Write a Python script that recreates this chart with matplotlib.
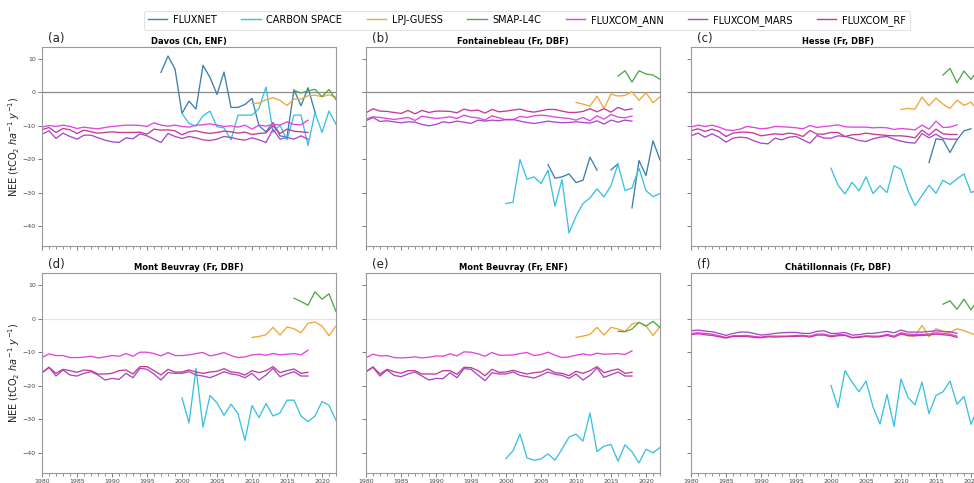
import numpy as np
import matplotlib
matplotlib.use("Agg")
import matplotlib.pyplot as plt
from matplotlib.lines import Line2D
from matplotlib.ticker import MultipleLocator

nan = np.nan

# ---------------- data ----------------
series_names = ["FLUXNET", "CARBON SPACE", "LPJ-GUESS", "SMAP-L4C",
                "FLUXCOM_ANN", "FLUXCOM_MARS", "FLUXCOM_RF"]
series_colors = ["#3c80ad", "#3cc0e2", "#f2a53a", "#52a84c",
                 "#e045e0", "#a64ac9", "#c43a96"]

site_titles = ["Davos (Ch, ENF)", "Fontainebleau (Fr, DBF)", "Hesse (Fr, DBF)",
               "Mont Beuvray (Fr, DBF)", "Mont Beuvray (Fr, ENF)", "Châtillonnais (Fr, DBF)"]
panel_labels = ["(a)", "(b)", "(c)", "(d)", "(e)", "(f)"]

years_fc = np.arange(1980, 2019)
years_cs = np.arange(2000, 2023)
years_lpj = np.arange(2010, 2023)
years_smap = np.arange(2016, 2023)

# (a) Davos
davos_fn_years = np.arange(1997, 2020)
davos_fn = [6.0, 10.9, 7.0, -6.3, -2.6, -5.0, 8.1, 4.5, -0.6, 6.1, -4.5, -4.5,
            -3.6, -1.8, -10.0, -11.8, -9.0, -13.0, -13.4, 0.8, -4.0, 1.4, -5.9]
davos_cs = [-6.3, -9.3, -10.1, -7.0, -5.6, -10.3, -10.6, -14.2, -6.8, -6.8, -6.8,
            -4.8, 1.6, -12.0, -9.8, -14.2, -6.8, -6.8, -15.9, -6.0, -12.0, -5.6, -9.5]
davos_lpj = [-3.3, -3.2, -2.2, -1.6, -2.4, -3.9, -2.0, -2.0, -1.0, -0.8, -1.3, -0.7, -1.4]
davos_smap = [0.6, -0.2, 0.5, 0.9, -1.3, 0.9, -2.2]
davos_ann = [-10.4, -9.9, -10.2, -9.8, -10.2, -10.8, -10.4, -10.7, -10.9, -10.5, -10.2, -10.0,
             -9.8, -9.8, -9.9, -10.2, -9.1, -9.8, -10.1, -9.8, -10.2, -10.4, -9.8, -9.7,
             -9.4, -9.8, -10.2, -10.0, -10.4, -9.8, -11.0, -9.8, -10.1, -9.5, -9.8, -8.8,
             -9.6, -9.7, -8.3]
davos_mars = [-12.5, -11.5, -13.8, -12.2, -13.2, -14.0, -12.8, -12.8, -13.6, -14.3, -14.8, -15.0,
              -13.6, -13.9, -12.4, -13.0, -14.0, -15.0, -12.3, -13.2, -13.8, -13.2, -13.6, -14.2,
              -14.4, -14.0, -13.2, -13.5, -14.0, -14.3, -13.6, -14.2, -15.0, -11.0, -14.0, -13.5,
              -14.0, -13.0, -14.0]
davos_rf = [-11.2, -10.5, -12.0, -10.8, -11.2, -12.3, -11.3, -11.8, -12.2, -12.0, -11.8, -12.0,
            -12.0, -12.0, -11.9, -12.5, -11.0, -11.3, -11.2, -11.5, -12.7, -11.8, -11.5, -12.0,
            -12.3, -12.0, -11.6, -11.8, -12.2, -11.9, -12.6, -12.3, -12.1, -10.0, -12.3, -11.0,
            -11.6, -11.8, -12.0]

# (b) Fontainebleau
font_fn_years = np.arange(2006, 2023)
font_fn = [-21.6, -25.7, -25.3, -24.4, -27.0, -26.3, -19.4, -23.3, nan, -23.2, -21.4, nan,
           -34.6, -20.4, -24.9, -14.5, -20.2]
font_cs = [-33.3, -32.9, -20.1, -26.0, -25.3, -27.3, -23.3, -34.1, -26.1, -42.1, -37.1, -33.3,
           -31.6, -28.9, -31.3, -27.9, -21.5, -29.4, -28.6, -22.7, -29.4, -31.2, -30.3]
font_lpj = [-3.0, -3.5, -4.1, -1.1, -4.8, -0.5, -1.1, -0.9, 0.2, -2.4, -0.1, -3.1, -1.3]
font_smap = [4.9, 6.5, 3.1, 6.5, 5.5, 5.2, 3.9]
font_ann = [-8.0, -7.3, -7.5, -7.8, -8.1, -7.8, -7.5, -8.4, -7.1, -7.5, -7.8, -7.6,
            -7.3, -7.8, -6.8, -7.4, -7.6, -8.3, -7.0, -7.6, -8.2, -8.2, -7.2, -7.5,
            -7.0, -6.8, -7.0, -7.4, -7.6, -7.8, -8.3, -7.5, -8.5, -7.0, -8.0, -6.6,
            -7.4, -7.6, -7.1]
font_mars = [-8.5, -7.5, -8.7, -8.5, -8.8, -9.1, -8.8, -8.9, -9.6, -10.0, -9.6, -8.8,
             -9.1, -8.6, -8.9, -9.3, -8.3, -8.6, -8.3, -8.5, -8.1, -8.1, -8.6, -9.0,
             -9.3, -9.0, -8.6, -8.9, -9.1, -9.0, -8.8, -9.0, -9.2, -8.5, -9.5, -8.3,
             -8.9, -8.3, -8.6]
font_rf = [-6.1, -4.9, -5.6, -5.7, -6.0, -6.3, -5.4, -6.4, -5.4, -6.0, -5.6, -5.6,
           -5.7, -6.1, -5.0, -5.5, -5.3, -6.2, -5.1, -5.8, -5.6, -5.3, -5.0, -5.6,
           -5.9, -5.5, -5.1, -5.1, -5.6, -6.0, -6.0, -5.7, -4.9, -5.8, -4.9, -5.9,
           -4.5, -5.3, -4.9]

# (c) Hesse
hesse_fn_years = np.arange(2014, 2021)
hesse_fn = [-21.0, -13.9, -14.2, -18.0, -14.2, -11.5, -10.9]
hesse_cs = [-22.7, -27.8, -30.4, -26.9, -29.5, -25.3, -30.3, -28.0, -30.0, -22.0, -23.0, -29.4,
            -33.9, -30.9, -27.8, -30.2, -26.3, -27.6, -25.9, -24.4, -30.0, -29.2, -27.0]
hesse_lpj = [-5.1, -4.8, -5.0, -1.4, -4.0, -1.7, -3.5, -4.8, -2.3, -3.9, -2.9, -5.6, -3.0]
hesse_smap = [5.2, 7.2, 2.9, 6.4, 3.9, 6.7, 4.0]
hesse_ann = [-10.4, -9.8, -10.2, -9.8, -10.4, -11.2, -11.4, -11.0, -10.2, -10.5, -10.9, -10.7,
             -10.2, -10.3, -10.4, -10.6, -10.9, -9.9, -10.5, -10.2, -10.0, -9.7, -10.3, -10.4,
             -10.4, -10.4, -10.6, -10.5, -10.6, -11.1, -10.8, -11.0, -11.2, -9.8, -11.0, -8.6,
             -10.5, -10.4, -9.7]
hesse_mars = [-13.0, -12.2, -13.4, -12.4, -13.4, -14.9, -13.7, -13.4, -13.6, -14.5, -15.2, -15.4,
              -13.7, -14.2, -13.4, -13.2, -14.2, -15.2, -12.9, -13.7, -13.7, -13.0, -13.2, -13.7,
              -14.4, -14.7, -13.9, -13.4, -13.2, -14.0, -14.6, -15.0, -15.2, -12.3, -13.6, -12.5,
              -13.8, -14.0, -14.0]
hesse_rf = [-11.5, -10.9, -11.7, -11.0, -11.7, -13.2, -12.2, -11.9, -11.9, -12.2, -13.0, -12.7,
            -12.4, -12.6, -12.2, -12.5, -13.2, -11.4, -12.5, -12.5, -12.0, -12.0, -13.2, -12.7,
            -12.6, -12.2, -12.5, -12.7, -12.9, -13.0, -13.0, -13.2, -13.6, -11.3, -12.8, -11.0,
            -12.4, -12.6, -12.6]

# (d) Mont Beuvray DBF
mbd_cs = [-23.6, -31.1, -14.8, -32.3, -22.9, -25.1, -28.8, -25.5, -28.3, -36.3, -25.9, -29.5,
          -25.3, -29.0, -28.1, -24.3, -24.3, -29.0, -30.7, -29.0, -24.7, -25.8, -30.3]
mbd_lpj = [-5.6, -5.3, -4.8, -2.6, -4.9, -2.5, -3.0, -4.2, -1.4, -1.0, -2.2, -5.1, -2.2]
mbd_smap = [6.1, 5.1, 4.0, 8.0, 5.8, 7.4, 2.1]
mbd_ann = [-11.6, -10.5, -11.0, -11.0, -11.6, -11.6, -11.5, -11.2, -11.7, -11.4, -11.0, -11.2,
           -10.4, -11.2, -10.0, -10.0, -10.4, -11.1, -10.1, -11.0, -11.0, -10.8, -10.4, -10.1,
           -11.1, -10.7, -10.1, -11.0, -11.6, -11.4, -10.8, -10.6, -10.9, -10.4, -10.8, -10.6,
           -10.4, -10.8, -9.4]
mbd_mars = [-16.1, -14.5, -17.1, -15.3, -16.8, -17.1, -16.3, -15.8, -16.8, -18.3, -17.8, -18.1,
            -16.3, -17.6, -14.8, -15.1, -16.5, -18.3, -16.1, -16.3, -16.3, -15.8, -16.8, -17.1,
            -17.6, -16.8, -15.8, -16.5, -16.8, -17.6, -16.3, -18.3, -16.8, -14.8, -17.3, -16.5,
            -15.8, -17.1, -17.1]
mbd_rf = [-16.1, -14.5, -16.3, -15.1, -15.5, -16.0, -15.3, -15.5, -16.5, -16.5, -16.3, -15.5,
          -15.3, -16.5, -14.3, -14.3, -15.5, -16.8, -15.1, -15.9, -15.9, -15.3, -15.9, -16.3,
          -15.9, -15.7, -14.9, -15.9, -16.1, -16.8, -15.5, -16.1, -15.5, -14.3, -16.1, -15.5,
          -15.0, -16.3, -16.0]

# (e) Mont Beuvray ENF
mbe_cs = [-41.7, -39.4, -34.4, -41.5, -42.2, -41.8, -40.3, -42.2, -38.9, -35.3, -34.4, -36.5,
          -28.1, -39.6, -38.0, -37.5, -42.5, -37.6, -39.7, -43.0, -38.9, -40.0, -38.4]
mbe_lpj = [-5.6, -5.2, -4.7, -2.6, -4.9, -2.6, -3.1, -3.8, -1.6, -1.1, -2.2, -5.0, -2.4]
mbe_smap = [-3.8, -3.9, -3.1, -1.1, -2.2, -0.8, -2.6]
mbe_ann = [-11.6, -10.6, -11.1, -11.0, -11.6, -11.7, -11.6, -11.4, -11.7, -11.5, -11.1, -11.2,
           -10.5, -11.1, -9.9, -10.0, -10.5, -11.2, -10.1, -10.9, -10.9, -10.8, -10.4, -10.1,
           -11.0, -10.7, -10.0, -10.9, -11.6, -11.4, -10.9, -10.5, -10.9, -10.3, -10.6, -10.5,
           -10.4, -10.7, -9.6]
mbe_mars = [-15.8, -14.5, -17.1, -15.3, -16.9, -17.3, -16.5, -15.9, -17.1, -18.3, -17.8, -17.9,
            -16.1, -17.6, -14.9, -15.1, -16.8, -18.5, -16.1, -16.5, -16.5, -15.9, -16.9, -17.3,
            -17.7, -16.9, -15.9, -16.6, -16.9, -17.8, -16.5, -18.3, -16.9, -14.7, -17.5, -16.7,
            -15.9, -17.1, -17.1]
mbe_rf = [-15.8, -14.4, -16.5, -15.1, -15.8, -16.3, -15.5, -15.5, -16.5, -16.5, -16.5, -15.5,
          -15.5, -16.6, -14.5, -14.6, -15.5, -17.0, -15.1, -16.0, -15.9, -15.4, -16.0, -16.5,
          -16.1, -15.9, -15.0, -16.1, -16.3, -17.0, -15.7, -16.3, -15.5, -14.3, -16.1, -15.5,
          -15.0, -16.3, -16.0]

# (f) Chatillonnais
chat_cs = [-19.9, -26.5, -15.5, -18.9, -21.8, -18.6, -26.3, -31.4, -22.6, -32.1, -18.0, -23.5,
           -25.7, -18.9, -28.3, -22.9, -21.8, -18.6, -25.5, -23.2, -31.5, -26.3, -22.0]
chat_lpj = [-4.2, -5.2, -5.2, -2.0, -5.4, -3.0, -3.8, -4.2, -3.0, -3.6, -4.4, -5.0, -5.5]
chat_smap = [4.3, 5.3, 2.8, 5.8, 2.6, 5.8, 4.0]
chat_ann = [-4.4, -4.2, -4.4, -4.6, -5.1, -5.6, -5.1, -5.1, -5.0, -5.3, -5.5, -5.2,
            -5.2, -5.2, -5.2, -5.0, -5.0, -5.2, -4.6, -4.6, -5.1, -4.8, -4.8, -5.6,
            -5.4, -5.1, -5.2, -5.2, -4.7, -5.2, -4.2, -4.6, -4.7, -4.7, -4.6, -4.2,
            -4.4, -4.6, -5.2]
chat_mars = [-3.6, -3.4, -3.7, -3.9, -4.4, -5.0, -4.4, -4.0, -4.0, -4.4, -4.9, -4.7,
             -4.4, -4.2, -4.1, -4.1, -4.4, -4.4, -3.8, -3.6, -4.4, -4.4, -4.1, -4.9,
             -4.8, -4.4, -4.4, -4.1, -3.8, -4.2, -3.4, -4.0, -4.0, -4.0, -3.8, -3.6,
             -3.8, -3.9, -4.4]
chat_rf = [-4.8, -4.5, -4.8, -5.0, -5.4, -5.8, -5.3, -5.3, -5.3, -5.6, -5.7, -5.4,
           -5.5, -5.4, -5.3, -5.3, -5.2, -5.5, -4.9, -4.9, -5.4, -5.1, -5.0, -5.7,
           -5.6, -5.3, -5.5, -5.4, -5.0, -5.5, -4.6, -5.0, -5.1, -5.0, -4.9, -4.6,
           -4.8, -5.0, -5.6]

x_ticks = [1980, 1985, 1990, 1995, 2000, 2005, 2010, 2015, 2020]
y_ticks = [-40, -30, -20, -10, 0, 10]

sites = [
    ((davos_fn_years, davos_fn), davos_cs, davos_lpj, davos_smap, davos_ann, davos_mars, davos_rf),
    ((font_fn_years, font_fn), font_cs, font_lpj, font_smap, font_ann, font_mars, font_rf),
    ((hesse_fn_years, hesse_fn), hesse_cs, hesse_lpj, hesse_smap, hesse_ann, hesse_mars, hesse_rf),
    (None, mbd_cs, mbd_lpj, mbd_smap, mbd_ann, mbd_mars, mbd_rf),
    (None, mbe_cs, mbe_lpj, mbe_smap, mbe_ann, mbe_mars, mbe_rf),
    (None, chat_cs, chat_lpj, chat_smap, chat_ann, chat_mars, chat_rf),
]

# ---------------- figure ----------------
W, H = 974, 483
fig = plt.figure(figsize=(W / 100, H / 100), dpi=100)

col_lefts = [42, 366, 691]
ax_w = 294
row_tops = [47, 273]
row_h = [199, 200]
zero_colors = ["#8a8a8a", "#e4e4e4"]
spine_col = "#9a9a9a"
lw = 0.95

for i, site in enumerate(sites):
    r, c = divmod(i, 3)
    left = col_lefts[c]
    top = row_tops[r]
    h = row_h[r]
    ax = fig.add_axes([left / W, 1 - (top + h) / H, ax_w / W, h / H])
    ax.axhline(0, color=zero_colors[r], lw=0.9, zorder=1)

    fn, cs, lpj, smap, ann, mars, rf = site
    if fn is not None:
        ax.plot(fn[0], fn[1], color=series_colors[0], lw=lw, zorder=2)
    ax.plot(years_cs, cs, color=series_colors[1], lw=lw, zorder=2)
    ax.plot(years_lpj, lpj, color=series_colors[2], lw=lw, zorder=2)
    ax.plot(years_smap, smap, color=series_colors[3], lw=lw, zorder=2)
    ax.plot(years_fc, ann, color=series_colors[4], lw=lw, zorder=2)
    ax.plot(years_fc, mars, color=series_colors[5], lw=lw, zorder=2)
    ax.plot(years_fc, rf, color=series_colors[6], lw=lw, zorder=2)

    ax.set_xlim(1980, 2022)
    ax.set_ylim(-46, 13.6)
    ax.set_xticks(x_ticks)
    ax.xaxis.set_minor_locator(MultipleLocator(1))
    ax.set_yticks(y_ticks)
    ax.tick_params(axis="both", which="major", length=3, width=0.6, labelsize=4.5,
                   color="#666666", labelcolor="#444444", pad=1.5)
    ax.tick_params(axis="x", which="minor", length=1.8, width=0.5, color="#666666")
    if r == 0:
        ax.tick_params(axis="x", labelbottom=False)
    if c != 0:
        ax.tick_params(axis="y", labelleft=False)
    else:
        ax.set_ylabel(r"NEE (tCO$_2$ $ha^{-1}$ $y^{-1}$)", fontsize=7, color="#222222")
        ax.yaxis.set_label_coords(-0.068, 0.5)
    for s in ax.spines.values():
        s.set_color(spine_col)
        s.set_linewidth(0.8)
    ax.set_title(site_titles[i], fontsize=6, fontweight="bold", pad=2.5)
    ax.text(0.02, 1.012, panel_labels[i], transform=ax.transAxes, fontsize=8.5,
            ha="left", va="bottom", color="#222222")

handles = [Line2D([0], [0], color=col, lw=1.0) for col in series_colors]
leg = fig.legend(handles, series_names, loc="upper left", bbox_to_anchor=(144 / W, 1 - 11 / H),
                 ncol=7, fontsize=7, frameon=True, handlelength=2.0, handletextpad=0.6,
                 columnspacing=2.5, borderaxespad=0.0, borderpad=0.4)
leg.get_frame().set_edgecolor("#dddddd")
leg.get_frame().set_linewidth(0.8)

fig.savefig("out.png", dpi=100)
